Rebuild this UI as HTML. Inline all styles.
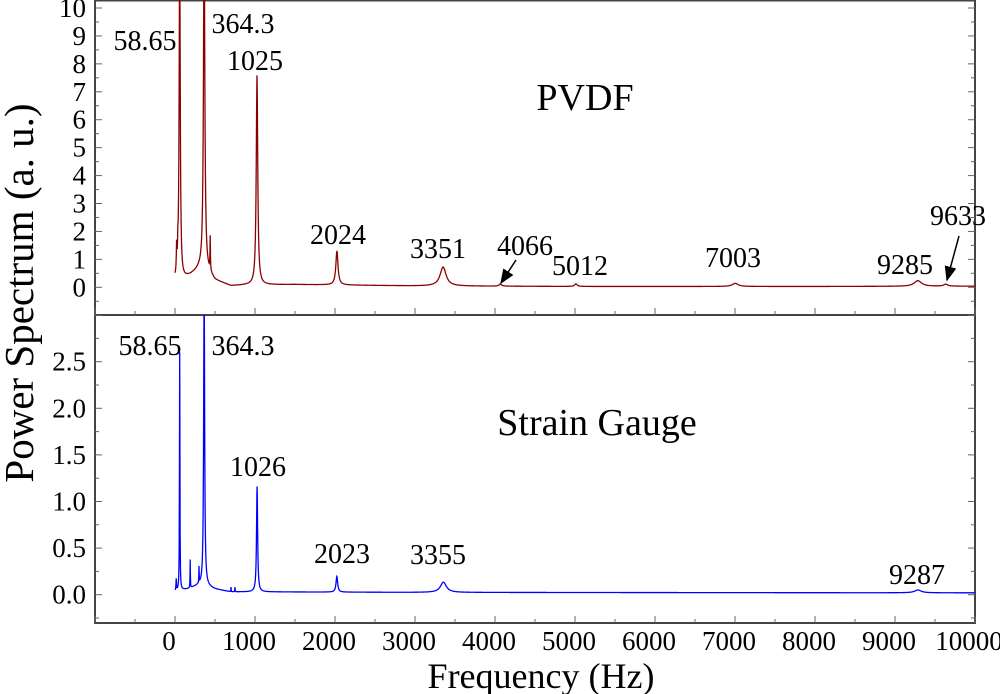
<!DOCTYPE html>
<html><head><meta charset="utf-8"><style>
html,body{margin:0;padding:0;background:#fff}
svg{display:block;font-family:"Liberation Serif",serif}
</style></head><body>
<svg id="chart" width="1000" height="694" viewBox="0 0 1000 694">
<defs>
<clipPath id="clipTop"><rect x="95" y="0" width="880" height="315"/></clipPath>
<clipPath id="clipBot"><rect x="95" y="315" width="880" height="308"/></clipPath>
<marker id="arr" markerWidth="10" markerHeight="10" refX="9" refY="5" orient="auto"><path d="M0,1 L10,5 L0,9 z" fill="#000"/></marker>
</defs>
<g id="axes"></g>
<g id="series"></g>
<g id="labels"></g>
</svg>
<script>
// ---- data ----
const xTicks = [0,1000,2000,3000,4000,5000,6000,7000,8000,9000,10000];
const topYTicks = [0,1,2,3,4,5,6,7,8,9,10];
const botYTicks = [0.0,0.5,1.0,1.5,2.0,2.5];
const botYTickLabels = ["0.0","0.5","1.0","1.5","2.0","2.5"];
// PVDF peaks
const pvdfPeakFreq = [58.65,364.3,440,1025,2024,3351,4066,5012,7003,9285,9633,20,35];
const pvdfPeakHeight = [12,12,1.2,7.5,1.22,0.68,0.07,0.09,0.11,0.2,0.07,0.9,0.6];
const pvdfPeakWidth = [8,10,3,11,16,45,20,20,45,55,30,4,4];
const pvdfBaseFreq = [0,100,200,300,364,500,700,900,1500,3000,5000,8000,10000];
const pvdfBaseVal = [0.25,0.3,0.45,0.65,0.7,0.25,0.05,0.08,0.1,0.05,0.03,0.03,0.04];
// Strain gauge peaks
const sgPeakFreq = [58.65,364.3,1026,2023,3355,9287,190,300,15,700,750];
const sgPeakHeight = [2.55,3.3,1.13,0.17,0.11,0.03,0.3,0.17,0.12,0.05,0.05];
const sgPeakWidth = [3,7,8,12,45,50,2,2,3,2,2];
const sgBaseFreq = [0,150,300,360,500,700,1200,3000,10000];
const sgBaseVal = [0.04,0.06,0.1,0.1,0.06,0.03,0.03,0.025,0.02];
// annotations
const annTopText = ["58.65","364.3","1025","2024","3351","4066","5012","7003","9285","9633"];
const annBotText = ["58.65","364.3","1026","2023","3355","9287"];

// ---- axis functions ----
const X0=95, X1=975;
const xScale = f => X0 + (f + 1000) / 11000 * (X1 - X0);
const yTop = v => 287.3 - v * 27.93;
const yBot = v => 594.7 - v * 93.2;

const NS="http://www.w3.org/2000/svg";
function mk(tag, attrs, parent){const e=document.createElementNS(NS,tag);for(const k in attrs)e.setAttribute(k,attrs[k]);parent.appendChild(e);return e;}
const axes=document.getElementById('axes'), series=document.getElementById('series'), labels=document.getElementById('labels');

let fr=mk('rect',{x:95,y:0.5,width:880,height:314.5,fill:'none',stroke:'#444','stroke-width':2},axes);

fr=mk('rect',{x:95,y:315,width:880,height:308,fill:'none',stroke:'#444','stroke-width':2},axes);


for(let f=-1000; f<=10000; f+=500){
  const x=xScale(f), L=(f%1000===0)?7:4;
  mk('line',{x1:x,x2:x,y1:315,y2:315-L,stroke:'#666','stroke-width':1},axes);
  mk('line',{x1:x,x2:x,y1:623,y2:623-L,stroke:'#666','stroke-width':1},axes);
}
xTicks.forEach(t=>{
  const tx=mk('text',{x:xScale(t)-6,y:650,'font-size':27,'text-anchor':'middle',fill:'#000'},labels);
  tx.textContent=t;
  
  
});
for(let v=-1; v<=10.25; v+=0.5){
  const y=yTop(v), L=(Math.abs(v-Math.round(v))<1e-6)?7:4;
  mk('line',{x1:95,x2:95+L,y1:y,y2:y,stroke:'#666'},axes);
  mk('line',{x1:975,x2:975-L,y1:y,y2:y,stroke:'#666'},axes);
}
topYTicks.forEach(t=>{
  const tx=mk('text',{x:86,y:yTop(t)+9,'font-size':27,'text-anchor':'end',fill:'#000'},labels);
  tx.textContent=t;
  
  
});
for(let v=-0.25; v<=2.9; v+=0.25){
  const y=yBot(v), L=(Math.abs(v*2-Math.round(v*2))<1e-6)?7:4;
  mk('line',{x1:95,x2:95+L,y1:y,y2:y,stroke:'#666'},axes);
  mk('line',{x1:975,x2:975-L,y1:y,y2:y,stroke:'#666'},axes);
}
botYTicks.forEach((t,i)=>{
  const tx=mk('text',{x:86,y:yBot(t)+9,'font-size':27,'text-anchor':'end',fill:'#000'},labels);
  tx.textContent=botYTickLabels[i];
  
  
});

function interp(fs,vs,f){for(let i=1;i<fs.length;i++){if(f<=fs[i]){const t=(f-fs[i-1])/(fs[i]-fs[i-1]);return vs[i-1]+t*(vs[i]-vs[i-1]);}}return vs[vs.length-1];}
function spectrum(pf,ph,pw,bf,bv,f){let s=interp(bf,bv,f);for(let i=0;i<pf.length;i++){const d=(f-pf[i])/pw[i];s+=ph[i]/(1+d*d);}return s;}
function freqs(pf){const a=[];for(let f=0;f<=10000;f+=4)a.push(f);pf.forEach(p=>a.push(p));return a.sort((a,b)=>a-b);}
function path(pf,ph,pw,bf,bv,ys){return freqs(pf).map((f,i)=>(i?'L':'M')+xScale(f).toFixed(2)+','+ys(spectrum(pf,ph,pw,bf,bv,f)).toFixed(2)).join('');}

const pTop=mk('path',{d:path(pvdfPeakFreq,pvdfPeakHeight,pvdfPeakWidth,pvdfBaseFreq,pvdfBaseVal,yTop),fill:'none',stroke:'#8b0000','stroke-width':1.3,'clip-path':'url(#clipTop)'},series);


const pBot=mk('path',{d:path(sgPeakFreq,sgPeakHeight,sgPeakWidth,sgBaseFreq,sgBaseVal,yBot),fill:'none',stroke:'#0000ff','stroke-width':1.3,'clip-path':'url(#clipBot)'},series);



const annTopPos=[[145,50],[243,33],[255,70],[338,244],[438,258],[525,255],[580,275],[733,267],[905,274],[958,225]];
annTopText.forEach((t,i)=>{
  const tx=mk('text',{x:annTopPos[i][0],y:annTopPos[i][1],'font-size':28,'text-anchor':'middle',fill:'#000'},labels);
  tx.textContent=t;
  
  
});
const annBotPos=[[150,355],[243,355],[258,476],[342,563],[438,564],[917,584]];
annBotText.forEach((t,i)=>{
  const tx=mk('text',{x:annBotPos[i][0],y:annBotPos[i][1],'font-size':28,'text-anchor':'middle',fill:'#000'},labels);
  tx.textContent=t;
  
  
});
let ar=mk('line',{x1:516,y1:260,x2:501,y2:283,stroke:'#000','stroke-width':1.5,'marker-end':'url(#arr)'},labels);

ar=mk('line',{x1:959,y1:236,x2:947,y2:280,stroke:'#000','stroke-width':1.5,'marker-end':'url(#arr)'},labels);


let t1=mk('text',{x:585,y:110,'font-size':38,'text-anchor':'middle',fill:'#000'},labels);t1.textContent='PVDF';

t1=mk('text',{x:597,y:435,'font-size':38,'text-anchor':'middle',fill:'#000'},labels);t1.textContent='Strain Gauge';

t1=mk('text',{x:541,y:688,'font-size':36,'text-anchor':'middle',fill:'#000'},labels);t1.textContent='Frequency (Hz)';

t1=mk('text',{x:0,y:0,'font-size':41,'text-anchor':'middle',fill:'#000',transform:'translate(33,293) rotate(-90)'},labels);t1.textContent='Power Spectrum (a. u.)';

</script>
</body></html>
